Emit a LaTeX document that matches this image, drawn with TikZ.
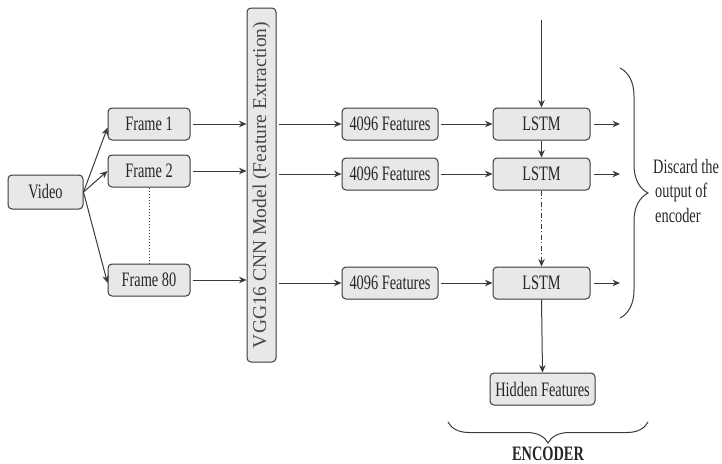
\documentclass[tikz,border=0pt]{standalone}
\usepackage{fontspec}
\setmainfont{Liberation Serif}[FakeStretch=0.7]
\newfontfamily\vggfont{Liberation Serif}
\usetikzlibrary{arrows.meta,decorations.pathreplacing}
\definecolor{linec}{HTML}{3A3A3A}
\definecolor{boxfill}{HTML}{E6E8EA}
\definecolor{txt}{HTML}{262626}
\begin{document}
\begin{tikzpicture}[x=1pt,y=-1pt,
  box/.style={draw=linec,fill=boxfill,rounded corners=4pt,line width=1pt,inner sep=0pt,
    font=\fontsize{20.5}{24}\selectfont,text=txt},
  framebox/.style={box,minimum width=82pt,minimum height=32pt},
  featbox/.style={box,minimum width=96pt,minimum height=32pt},
  lstmbox/.style={box,minimum width=97pt,minimum height=32pt},
  arr/.style={draw=linec,line width=1pt,-{Stealth[length=7.5pt,width=6.5pt]}},
  plain/.style={font=\fontsize{20.5}{24}\selectfont,text=txt,inner sep=0pt},
  bracestyle/.style={draw=linec,line width=1pt,decorate}
]
\useasboundingbox (0,0) rectangle (722,463);

% boxes
\node[box,minimum width=75pt,minimum height=34pt] (video) at (45.5,192) {Video};
\node[framebox] (f1) at (149,124) {Frame 1};
\node[framebox] (f2) at (149,171) {Frame 2};
\node[framebox] (f80) at (149,280) {Frame 80};
\node[box,minimum width=29pt,minimum height=354pt] (vgg) at (261.5,185) {};
\node[plain,rotate=90,font=\vggfont\fontsize{19.5}{24}\selectfont,text=txt!85] (vggtext) at (vgg.center) {VGG16 CNN Model (Feature Extraction)};

\node[featbox] (ft1) at (390,124) {4096 Features};
\node[featbox] (ft2) at (390,174) {4096 Features};
\node[featbox] (ft3) at (390,283) {4096 Features};

\node[lstmbox] (l1) at (541.5,124) {LSTM};
\node[lstmbox] (l2) at (541.5,174) {LSTM};
\node[lstmbox] (l3) at (541.5,283) {LSTM};

\node[box,minimum width=105pt,minimum height=32pt] (hid) at (542.5,389) {Hidden Features};

% free ends
\coordinate (top) at (541.5,20);
\coordinate (o1) at (620,124);
\coordinate (o2) at (620,174);
\coordinate (o3) at (620,283);

% video to frames
\draw[arr] (video.east) -- ([yshift=13pt]f1.south west);
\draw[arr] (video.east) -- (f2.west);
\draw[arr] (video.east) -- ([yshift=-3pt]f80.west);
\draw[linec,line width=0.6pt,dash pattern=on 1.5pt off 1.5pt] (f2.south) -- (f80.north);

% frames to vgg
\draw[arr] ([xshift=2pt]f1.east) -- (f1.east -| vgg.west);
\draw[arr] ([xshift=2pt]f2.east) -- (f2.east -| vgg.west);
\draw[arr] ([xshift=2pt]f80.east) -- (f80.east -| vgg.west);

% vgg to features
\draw[arr] ([xshift=2pt]vgg.east |- ft1.west) -- (ft1.west);
\draw[arr] ([xshift=2pt]vgg.east |- ft2.west) -- (ft2.west);
\draw[arr] ([xshift=2pt]vgg.east |- ft3.west) -- (ft3.west);

% features to lstm
\draw[arr] ([xshift=2pt]ft1.east) -- (l1.west);
\draw[arr] ([xshift=2pt]ft2.east) -- (l2.west);
\draw[arr] ([xshift=2pt]ft3.east) -- (l3.west);

% lstm outputs
\draw[arr] ([xshift=3pt]l1.east) -- (o1);
\draw[arr] ([xshift=3pt]l2.east) -- (o2);
\draw[arr] ([xshift=3pt]l3.east) -- (o3);

% vertical chain
\draw[arr] (top) -- (l1.north);
\draw[arr] (l1.south) -- (l2.north);
\draw[arr,dash pattern=on 5pt off 2.5pt on 1pt off 2.5pt] (l2.south) -- (l3.north);
\draw[arr] (l3.south) -- (hid.north);

% braces
\draw[bracestyle,decoration={brace,amplitude=28pt}] (620,68) -- (620,318);
\draw[bracestyle,decoration={brace,amplitude=21pt}] (648,422) -- (448,422);

% labels
\node[plain,anchor=base west] (d1) at (653,173) {Discard the};
\node[plain,anchor=base west] (d2) at (655,197) {output of};
\node[plain,anchor=base west] (d3) at (655,222) {encoder};
\node[plain,anchor=base,font=\bfseries\fontsize{20.5}{24}\selectfont] (enc) at (548,460) {ENCODER};
\end{tikzpicture}
\end{document}
